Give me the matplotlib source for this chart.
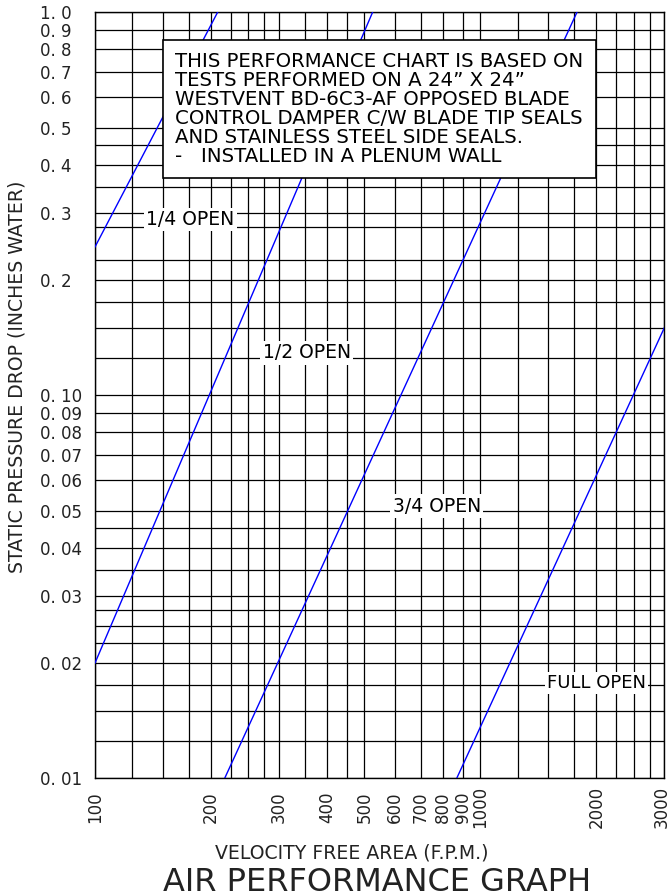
import matplotlib.pyplot as plt
import matplotlib.transforms as mtransforms
from matplotlib.patches import Rectangle
from matplotlib.ticker import NullFormatter

# velocity through free area (F.P.M.)
vel_ticks = [100, 200, 300, 400, 500, 600, 700, 800, 900, 1000, 2000, 3000]
vel_grid = [125, 150, 175, 225, 250, 275, 350, 450, 1250, 1500, 1750, 2250, 2500, 2750]

# static pressure drop (inches water)
dp_ticks = [0.01, 0.02, 0.03, 0.04, 0.05, 0.06, 0.07, 0.08, 0.09, 0.10,
            0.2, 0.3, 0.4, 0.5, 0.6, 0.7, 0.8, 0.9, 1.0]
dp_labels = ['0. 01', '0. 02', '0. 03', '0. 04', '0. 05', '0. 06', '0. 07', '0. 08', '0. 09', '0. 10',
             '0. 2', '0. 3', '0. 4', '0. 5', '0. 6', '0. 7', '0. 8', '0. 9', '1. 0']
dp_grid = [0.0125, 0.015, 0.0175, 0.0225, 0.025, 0.0275, 0.035, 0.045,
           0.125, 0.15, 0.175, 0.225, 0.275, 0.35, 0.45]

# damper curves (end points)
quarter_v = [100, 208]
quarter_dp = [0.244, 1.0]
half_v = [100, 525]
half_dp = [0.02, 1.0]
three_q_v = [217, 1780]
three_q_dp = [0.01, 1.0]
full_v = [868, 3000]
full_dp = [0.01, 0.15]

note = ('THIS PERFORMANCE CHART IS BASED ON\n'
        'TESTS PERFORMED ON A 24\u201d X 24\u201d\n'
        'WESTVENT BD-6C3-AF OPPOSED BLADE\n'
        'CONTROL DAMPER C/W BLADE TIP SEALS\n'
        'AND STAINLESS STEEL SIDE SEALS.\n'
        '-   INSTALLED IN A PLENUM WALL')

W, H = 670, 896
fig = plt.figure(figsize=(W / 100, H / 100), dpi=100)
ax = fig.add_axes([95 / W, 1 - 778.3 / H, (664.3 - 95) / W, (778.3 - 12.3) / H])

ax.set_xscale('log')
ax.set_yscale('log')
ax.set_xlim(100, 3000)
ax.set_ylim(0.01, 1.0)

ax.set_xticks(vel_ticks)
ax.set_xticks(vel_grid, minor=True)
ax.xaxis.set_major_formatter(NullFormatter())
ax.xaxis.set_minor_formatter(NullFormatter())
ax.set_yticks(dp_ticks, labels=dp_labels)
ax.set_yticks(dp_grid, minor=True)
ax.yaxis.set_minor_formatter(NullFormatter())

ax.grid(True, which='both', color='black', lw=0.9)
ax.set_axisbelow(True)
ax.tick_params(which='both', length=0)
ax.tick_params(axis='y', pad=39.6, labelsize=12, labelcolor='#222222')
plt.setp(ax.get_yticklabels(), ha='left')
for s in ax.spines.values():
    s.set_linewidth(1.0)

# x tick labels, rotated, centred ~29 px below the axis
xlab_tr = mtransforms.blended_transform_factory(ax.transData, ax.transAxes)
for v in vel_ticks:
    dx = -3 if v == vel_ticks[-1] else 0
    off = mtransforms.ScaledTranslation(dx / 100, -29 / 100, fig.dpi_scale_trans)
    ax.text(v, 0, str(v), transform=xlab_tr + off, rotation=90,
            ha='center', va='center', fontsize=12, color='#222222', clip_on=False)

blue = '#0000ff'
for v, dp in [(quarter_v, quarter_dp), (half_v, half_dp),
              (three_q_v, three_q_dp), (full_v, full_dp)]:
    ax.plot(v, dp, color=blue, lw=1.0, zorder=3)

lbl_box = dict(facecolor='white', edgecolor='none', pad=1.5)
ax.text(177, 0.288, '1/4 OPEN', ha='center', va='center', fontsize=13.5, bbox=lbl_box, zorder=5)
ax.text(354, 0.129, '1/2 OPEN', ha='center', va='center', fontsize=13.5, bbox=lbl_box, zorder=5)
ax.text(770, 0.0514, '3/4 OPEN', ha='center', va='center', fontsize=13.5, bbox=lbl_box, zorder=5)
ax.text(2000, 0.01775, 'FULL OPEN', ha='center', va='center', fontsize=13, bbox=lbl_box, zorder=5)

# note box
ax.add_patch(Rectangle((150, 0.37), 2000 - 150, 0.845 - 0.37,
                       facecolor='white', edgecolor='black', lw=1.2, zorder=4))
ax.text(161, 0.79, note, ha='left', va='top', fontsize=14.2, linespacing=1.0, zorder=5)

fig.text(17.3 / W, 1 - 376.5 / H, 'STATIC PRESSURE DROP (INCHES WATER)',
         rotation=90, ha='center', va='center', fontsize=13.6, color='#222222')
fig.text(352 / W, 1 - 853 / H, 'VELOCITY FREE AREA (F.P.M.)',
         ha='center', va='center', fontsize=13.6, color='#222222')
fig.text(377 / W, 1 - 882 / H, 'AIR PERFORMANCE GRAPH',
         ha='center', va='center', fontsize=23, color='#222222')

fig.savefig('out.png', dpi=100)
